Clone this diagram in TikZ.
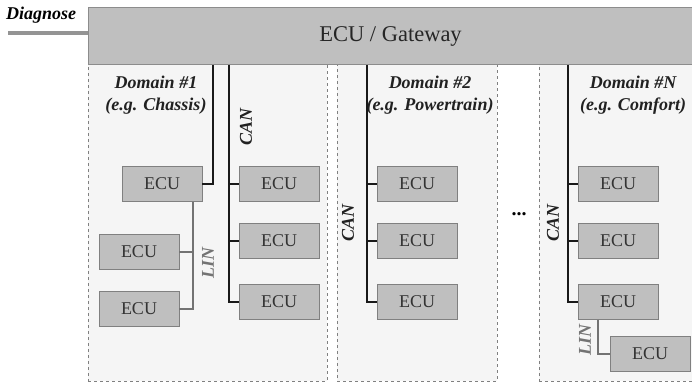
\documentclass[tikz,border=0pt]{standalone}
\usepackage{fontspec}
\setmainfont{Liberation Serif}
\begin{document}
\begin{tikzpicture}[x=1pt,y=-1pt,
  domainbox/.style={draw=black!50, dashed, line width=0.7pt, fill=black!4,
    minimum height=317pt, inner sep=0pt},
  gatewaybox/.style={draw=black!45, line width=0.8pt, fill=black!25,
    minimum width=605pt, minimum height=57pt, inner sep=0pt,
    font=\fontsize{22.5}{27}\selectfont, text=black!85},
  ecu/.style={draw=black!50, line width=0.9pt, fill=black!25,
    minimum width=80pt, minimum height=35pt, inner sep=0pt,
    font=\fontsize{18}{22}\selectfont, text=black!80},
  dtitle/.style={align=center, font=\fontsize{18}{22}\selectfont\bfseries\itshape,
    text=black!87, inner sep=0pt},
  canlabel/.style={rotate=90, font=\fontsize{18}{22}\selectfont\bfseries\itshape,
    text=black!87, inner sep=0pt},
  linlabel/.style={rotate=90, font=\fontsize{18}{22}\selectfont\bfseries\itshape,
    text=black!55, inner sep=0pt},
  canbus/.style={draw=black!90, line width=1.6pt, line join=miter},
  linbus/.style={draw=black!55, line width=1.4pt, line join=miter},
  diagline/.style={draw=black!42, line width=4pt}
]
\useasboundingbox (0,0) rectangle (692,384);

% domain areas
\node[domainbox, minimum width=239pt] (d1) at (207.5,222.5) {};
\node[domainbox, minimum width=160pt] (d2) at (417,222.5) {};
\node[domainbox, minimum width=155pt] (dn) at (616.5,222.5) {};

% central gateway
\node[gatewaybox] (gw) at (390.5,36) {ECU / Gateway};

% diagnosis access
\node[anchor=base west, inner sep=0pt,
  font=\fontsize{18}{22}\selectfont\bfseries\itshape] (diag) at (6,19) {Diagnose};
\coordinate (diagstart) at (8,33);
\draw[diagline] (diagstart) -- (diagstart -| gw.west);

% domain titles
\node[dtitle] (t1) at (156,95) {Domain \#1\\(e.g. Chassis)};
\node[dtitle] (t2) at (430,95) {Domain \#2\\(e.g. Powertrain)};
\node[dtitle] (tn) at (633,95) {Domain \#N\\(e.g. Comfort)};

% domain 1 control units
\node[ecu] (eA) at (162,184) {ECU};
\node[ecu] (e1a) at (279,184) {ECU};
\node[ecu] (e1b) at (279,241) {ECU};
\node[ecu] (e1c) at (279,302) {ECU};
\node[ecu] (eL1) at (139,252) {ECU};
\node[ecu] (eL2) at (139,309) {ECU};

% domain 2 control units
\node[ecu] (e2a) at (417,184) {ECU};
\node[ecu] (e2b) at (417,241) {ECU};
\node[ecu] (e2c) at (417,302) {ECU};

% domain N control units
\node[ecu] (ena) at (618,184) {ECU};
\node[ecu] (enb) at (618,241) {ECU};
\node[ecu] (enc) at (618,302) {ECU};
\node[ecu] (enL) at (650,354) {ECU};

% bus positions
\coordinate (linkA) at (213,0);
\coordinate (bus1) at (229,0);
\coordinate (lin1) at (193,0);
\coordinate (bus2) at (367,0);
\coordinate (busn) at (568,0);
\coordinate (linn) at (598,0);

% domain 1 buses
\draw[canbus] (linkA |- gw.south) |- (eA.east);
\draw[canbus] (bus1 |- gw.south) |- (e1c.west);
\draw[canbus] (bus1 |- e1a.west) -- (e1a.west);
\draw[canbus] (bus1 |- e1b.west) -- (e1b.west);
\draw[linbus] (lin1 |- eA.south) |- (eL2.east);
\draw[linbus] (lin1 |- eL1.east) -- (eL1.east);

% domain 2 bus
\draw[canbus] (bus2 |- gw.south) |- (e2c.west);
\draw[canbus] (bus2 |- e2a.west) -- (e2a.west);
\draw[canbus] (bus2 |- e2b.west) -- (e2b.west);

% domain N buses
\draw[canbus] (busn |- gw.south) |- (enc.west);
\draw[canbus] (busn |- ena.west) -- (ena.west);
\draw[canbus] (busn |- enb.west) -- (enb.west);
\draw[linbus] (linn |- enc.south) |- (enL.west);

% bus labels
\node[canlabel] (c1) at (246,127) {CAN};
\node[canlabel] (c2) at (348,223) {CAN};
\node[canlabel] (cn) at (553,223) {CAN};
\node[linlabel] (l1) at (208,263) {LIN};
\node[linlabel] (ln) at (585,340) {LIN};

% further domains
\node[anchor=base, inner sep=0pt, font=\fontsize{20}{24}\selectfont\bfseries] (more) at (519,215) {...};
\end{tikzpicture}
\end{document}
